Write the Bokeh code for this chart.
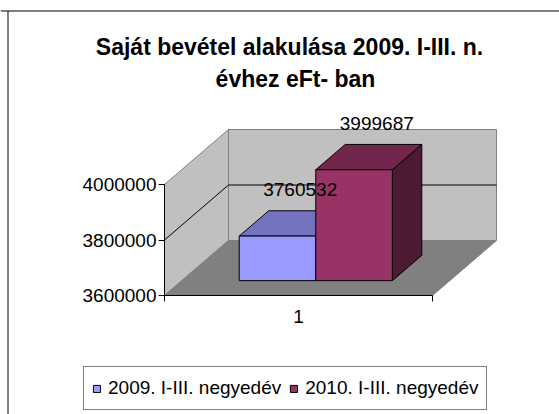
from bokeh.plotting import figure
from bokeh.models import (Range1d, LinearAxis, FixedTicker, NumeralTickFormatter,
                          Legend, LegendItem, Label, Span, ColumnDataSource)
from bokeh.core.properties import value
from bokeh.embed import file_html
from bokeh.resources import INLINE

# ---------------- data ----------------
title_lines = ["Saját bevétel alakulása 2009. I-III. n.", "évhez eFt- ban"]
categories = ["1"]
series_names = ["2009. I-III. negyedév", "2010. I-III. negyedév"]
series_2009 = [3760532]
series_2010 = [3999687]
series_values = [series_2009, series_2010]
y_ticks = [3600000, 3800000, 4000000]

# ---------------- style ----------------
FONT = "Liberation Sans"
front_colors = ["#9999FF", "#993366"]
top_colors = ["#7373BF", "#73264D"]
side_colors = ["#5C5C99", "#4D1A33"]
WALL = "#C0C0C0"
WALL_EDGE = "#808080"
FLOOR = "#808080"

# ---------------- layout (figure pixels) ----------------
W, H = 559, 414
X0_PX = 164                     # px where category axis starts
X_PX = 268                      # px per category
Y0_PX = 295                     # px (from top) of value-axis minimum
B, T = y_ticks[0], y_ticks[-1]
Y_PX = 111 / (T - B)            # px per value unit
DX = 64 / X_PX                  # depth offset (category units)
DY = 55 / Y_PX                  # depth offset (value units)
F0, F1 = 0.27, 0.73             # bar depth span (fraction of wall depth)
GAP = 1.5
ncat = len(categories)
nser = len(series_values)
bw = 1.0 / (nser + GAP)


def px_to_x(px):
    return (px - X0_PX) / X_PX


def px_to_y(py):
    return B + (Y0_PX - py) / Y_PX


p = figure(width=W, height=H, output_backend="svg", toolbar_location=None,
           x_range=Range1d(px_to_x(0), px_to_x(W)),
           y_range=Range1d(px_to_y(H), px_to_y(0)),
           x_axis_type=None, y_axis_type=None,
           min_border=0, min_border_left=0, min_border_right=0,
           min_border_top=0, min_border_bottom=0,
           outline_line_color=None, background_fill_color="white",
           border_fill_color="white")

# walls and floor
p.quad(left=[DX], right=[ncat + DX], bottom=[B + DY], top=[T + DY],
       fill_color=WALL, line_color=WALL_EDGE, line_width=1)
p.patch([0, 0, DX, DX], [B, T, T + DY, B + DY],
        fill_color=WALL, line_color=WALL_EDGE, line_width=1)
p.patch([0, ncat, ncat + DX, DX], [B, B, B + DY, B + DY],
        fill_color=FLOOR, line_color=FLOOR, line_width=1)

# gridlines
for t in y_ticks[1:-1]:
    p.line([0, DX, ncat + DX], [t, t + DY, t + DY], line_color="black", line_width=1)

# bars
front_renderers = []
for s, vals in enumerate(series_values):
    x0s = [c + GAP * bw / 2 + s * bw for c in range(len(vals))]
    x1s = [x + bw for x in x0s]
    src = ColumnDataSource(dict(
        left=[x + F0 * DX for x in x0s], right=[x + F0 * DX for x in x1s],
        bottom=[B + F0 * DY] * len(vals), top=[v + F0 * DY for v in vals]))
    # side face
    p.patches([[x1 + F0 * DX, x1 + F1 * DX, x1 + F1 * DX, x1 + F0 * DX] for x1 in x1s],
              [[B + F0 * DY, B + F1 * DY, v + F1 * DY, v + F0 * DY] for v in vals],
              fill_color=side_colors[s], line_color="black", line_width=1)
    # top face
    p.patches([[x0 + F0 * DX, x1 + F0 * DX, x1 + F1 * DX, x0 + F1 * DX] for x0, x1 in zip(x0s, x1s)],
              [[v + F0 * DY, v + F0 * DY, v + F1 * DY, v + F1 * DY] for v in vals],
              fill_color=top_colors[s], line_color="black", line_width=1)
    # front face
    r = p.quad(left="left", right="right", bottom="bottom", top="top", source=src,
               fill_color=front_colors[s], line_color="black", line_width=1)
    front_renderers.append(r)

# data labels
for s, vals in enumerate(series_values):
    xs = [c + GAP * bw / 2 + s * bw + bw / 2 + 0.5 * DX for c in range(len(vals))]
    ys = [v + F1 * DY for v in vals]
    p.text(xs, ys, text=[str(v) for v in vals], text_align="center",
           text_baseline="middle", x_offset=8, y_offset=-21,
           text_font=value(FONT), text_font_size="19px", text_color="black")

# axes
yaxis = LinearAxis(fixed_location=0, bounds=(B, T),
                   ticker=FixedTicker(ticks=y_ticks),
                   formatter=NumeralTickFormatter(format="0"),
                   major_label_text_font=FONT, major_label_text_font_size="19px",
                   major_label_text_color="black", major_tick_out=6, major_tick_in=0,
                   minor_tick_out=0, minor_tick_in=0, major_label_standoff=2,
                   axis_line_color="black", major_tick_line_color="black")
p.add_layout(yaxis, "left")

cat_pos = [c + 0.5 for c in range(ncat)]
xaxis = LinearAxis(fixed_location=B, bounds=(0, ncat),
                   ticker=FixedTicker(ticks=cat_pos, minor_ticks=list(range(ncat + 1))),
                   major_label_overrides={pos: cat for pos, cat in zip(cat_pos, categories)},
                   major_label_text_font=FONT, major_label_text_font_size="19px",
                   major_label_text_color="black", major_tick_out=0, major_tick_in=0,
                   minor_tick_out=6, minor_tick_in=0, major_label_standoff=8,
                   axis_line_color="black", minor_tick_line_color="black")
p.add_layout(xaxis, "below")

# title
p.add_layout(Label(x=289, y=H - 46, x_units="screen", y_units="screen", text=title_lines[0],
                   text_align="center", text_baseline="alphabetic", text_font=FONT,
                   text_font_size="23px", text_font_style="bold", text_color="black"))
p.add_layout(Label(x=295, y=H - 78, x_units="screen", y_units="screen", text=title_lines[1],
                   text_align="center", text_baseline="alphabetic", text_font=FONT,
                   text_font_size="23px", text_font_style="bold", text_color="black"))

# legend
legend = Legend(items=[LegendItem(label=n, renderers=[r]) for n, r in zip(series_names, front_renderers)],
                location=(83, 4), orientation="horizontal",
                label_text_font=FONT, label_text_font_size="19px", label_text_color="black",
                glyph_width=9, glyph_height=9, label_standoff=7, spacing=8, padding=8,
                label_height=26, margin=0,
                border_line_color="black", border_line_width=1,
                background_fill_color="white", background_fill_alpha=1.0)
p.add_layout(legend, "center")

# chart border (left and top edges; right and bottom lie outside the window)
p.segment(x0=[px_to_x(7.5)], y0=[px_to_y(10.5)], x1=[px_to_x(7.5)], y1=[px_to_y(H + 5)],
          line_color="black", line_width=1)
p.add_layout(Span(location=H - 10.5, location_units="screen", dimension="width",
                  line_color="black", line_width=1))

open("out.html", "w").write(file_html(p, INLINE))
